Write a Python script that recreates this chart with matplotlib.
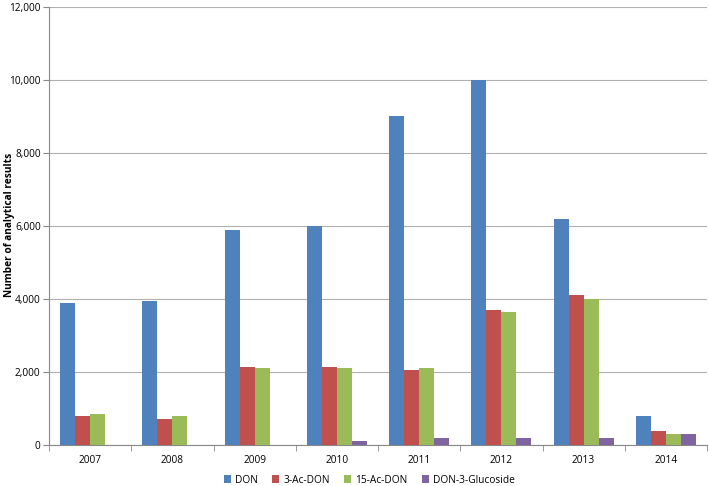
import matplotlib
matplotlib.use('Agg')
import matplotlib.pyplot as plt
import numpy as np

years = ['2007', '2008', '2009', '2010', '2011', '2012', '2013', '2014']
don = [3900, 3950, 5900, 6000, 9000, 10000, 6200, 800]
ac3 = [800, 700, 2150, 2150, 2050, 3700, 4100, 380]
ac15 = [850, 800, 2100, 2100, 2100, 3650, 4000, 300]
gluc = [0, 0, 0, 100, 200, 200, 200, 300]
series = [('DON', don, '#4F81BD'), ('3-Ac-DON', ac3, '#C0504D'),
          ('15-Ac-DON', ac15, '#9BBB59'), ('DON-3-Glucoside', gluc, '#8064A2')]

plt.rcParams['font.family'] = ['Open Sans', 'DejaVu Sans']
fig = plt.figure(figsize=(7.09, 4.86), dpi=100)
ax = fig.add_axes([49/709, 41/486, 658/709, 438/486])

x = np.arange(len(years))
w = 0.182
for i, (name, vals, col) in enumerate(series):
    ax.bar(x + (i - 1.5) * w, vals, w, color=col, label=name, zorder=3)

fs = 7.3
ax.set_xlim(-0.5, len(years) - 0.5)
ax.set_ylim(0, 12000)
ax.set_yticks(range(0, 12001, 2000))
ax.set_yticklabels(['{:,}'.format(v) for v in range(0, 12001, 2000)], fontsize=fs)
ax.set_xticks(x)
ax.set_xticklabels(years, fontsize=fs)
ax.tick_params(axis='x', length=0, pad=7)
ax.set_xticks(np.arange(-0.5, len(years)), minor=True)
ax.tick_params(axis='x', which='minor', length=4, color='#888888')
ax.tick_params(axis='y', length=4, color='#888888', pad=2)
ax.yaxis.grid(True, color='#B0B0B0', linewidth=0.8, zorder=0)
for s in ['top', 'right']:
    ax.spines[s].set_visible(False)
ax.spines['left'].set_color('#888888')
ax.spines['bottom'].set_color('#888888')
fig.text(10/709, 1 - 225/486, 'Number of analytical results', rotation=90, fontsize=fs,
         fontweight='bold', ha='center', va='center')

ax.legend(loc='center', bbox_to_anchor=(0.487, -0.08), ncol=4, frameon=False,
          fontsize=fs, handlelength=0.7, handleheight=0.7, handletextpad=0.4, columnspacing=1.4)

fig.savefig('out.png', dpi=100)
